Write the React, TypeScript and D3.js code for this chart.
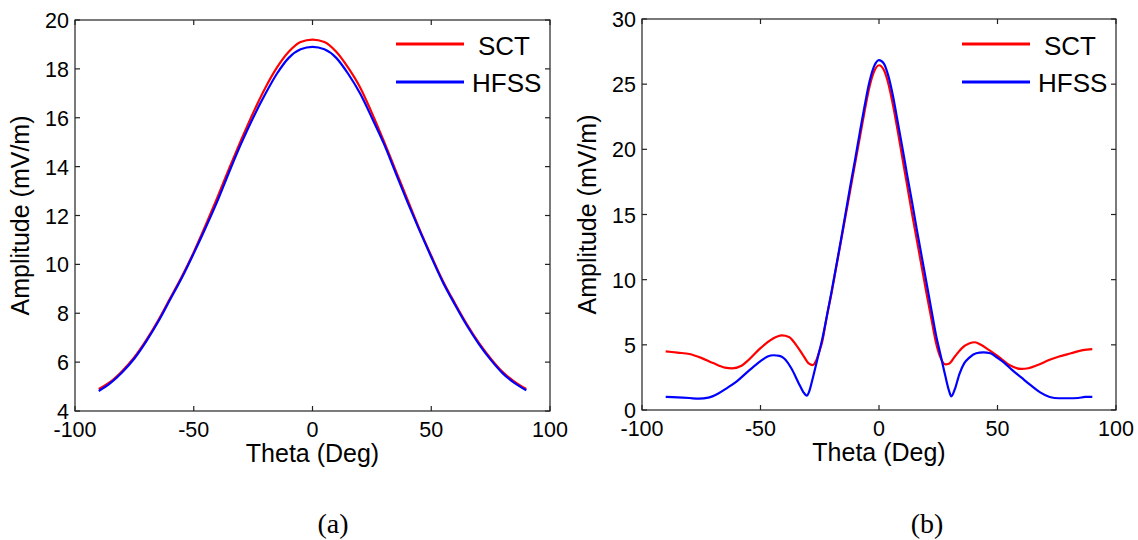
import React from "react";
import * as d3 from "d3";

// ---------- Data ----------
// Panel (a)
const thetaA = [-90, -85, -80, -75, -70, -65, -60, -55, -50, -45, -40, -35, -30, -25, -20, -15, -10, -5, 0, 5, 10, 15, 20, 25, 30, 35, 40, 45, 50, 55, 60, 65, 70, 75, 80, 85, 90];
const sctA = [4.9, 5.2, 5.65, 6.2, 6.9, 7.7, 8.6, 9.5, 10.5, 11.6, 12.75, 13.95, 15.1, 16.2, 17.2, 18.05, 18.7, 19.1, 19.2, 19.1, 18.7, 18.05, 17.25, 16.2, 15.05, 13.85, 12.65, 11.45, 10.35, 9.3, 8.4, 7.55, 6.8, 6.15, 5.6, 5.2, 4.9];
const hfssA = [4.82, 5.15, 5.6, 6.15, 6.85, 7.65, 8.55, 9.45, 10.45, 11.5, 12.6, 13.8, 14.95, 16.0, 16.95, 17.8, 18.45, 18.8, 18.9, 18.8, 18.45, 17.8, 17.0, 16.0, 14.95, 13.75, 12.55, 11.4, 10.3, 9.25, 8.35, 7.5, 6.75, 6.1, 5.55, 5.15, 4.85];

// Panel (b)
const thetaBSct = [-90, -85, -80, -75, -70, -65, -62, -58, -55, -50, -45, -41, -38, -35, -32, -29.5, -28, -26.5, -25, -24, -22, -20, -18, -16, -14, -12, -10, -8, -6, -4, -2, 0, 2, 4, 6, 8, 10, 12, 14, 16, 18, 20, 22, 24, 26, 28, 29.5, 32, 35, 38, 40.5, 43, 46, 50, 55, 60, 63, 67, 72, 76, 81, 86, 90];
const sctB = [4.5, 4.4, 4.3, 4.0, 3.6, 3.25, 3.2, 3.4, 3.85, 4.75, 5.45, 5.72, 5.6, 5.0, 4.2, 3.55, 3.45, 3.8, 4.6, 5.2, 7.2, 9.0, 11.0, 13.0, 15.0, 17.0, 19.0, 21.0, 23.0, 24.8, 26.0, 26.45, 26.1, 25.0, 23.3, 21.3, 19.2, 17.1, 15.0, 13.0, 11.0, 9.0, 7.1, 5.2, 4.0, 3.5, 3.55, 4.1, 4.75, 5.1, 5.2, 5.0, 4.65, 4.15, 3.45, 3.15, 3.2, 3.45, 3.85, 4.1, 4.35, 4.6, 4.67];
const thetaBHfss = [-90, -85, -80, -76, -72, -68, -64, -60, -55, -50, -47, -44.5, -42, -40, -37, -34, -32, -30.5, -29.5, -28, -26, -24, -22, -20, -18, -16, -14, -12, -10, -8, -6, -4, -2, 0, 2, 4, 6, 8, 10, 12, 14, 16, 18, 20, 22, 24, 26, 28, 29.5, 30.5, 32, 34, 36, 38, 41, 44, 47, 50, 53, 56, 60, 64, 68, 72, 76, 80, 84, 87, 90];
const hfssB = [1.0, 0.97, 0.92, 0.87, 0.95, 1.25, 1.7, 2.2, 3.0, 3.75, 4.1, 4.2, 4.15, 3.95, 3.2, 2.1, 1.4, 1.1, 1.4, 2.4, 3.9, 5.4, 7.2, 9.1, 11.1, 13.1, 15.2, 17.3, 19.3, 21.4, 23.4, 25.2, 26.4, 26.85, 26.6, 25.6, 24.0, 22.0, 20.0, 17.9, 15.9, 13.8, 11.8, 9.8, 7.8, 5.8, 4.2, 2.6, 1.5, 1.05, 1.6, 2.8, 3.6, 4.0, 4.35, 4.42, 4.35, 4.0, 3.6, 3.1, 2.5, 1.9, 1.35, 1.0, 0.9, 0.9, 0.92, 1.0, 1.0];

const xTicks = [-100, -50, 0, 50, 100];
const yTicksA = [4, 6, 8, 10, 12, 14, 16, 18, 20];
const yTicksB = [0, 5, 10, 15, 20, 25, 30];
const seriesNames = ["SCT", "HFSS"];
const seriesColors = ["#ff0000", "#0000ff"];

const SANS = "'Liberation Sans', Arial, sans-serif";
const SERIF = "'Liberation Serif', 'Times New Roman', serif";

type PanelProps = {
  left: number;
  right: number;
  top: number;
  bottom: number;
  yDomain: [number, number];
  yTicks: number[];
  series: { theta: number[]; values: number[] }[];
  caption: string;
  captionX: number;
};

function Panel({ left, right, top, bottom, yDomain, yTicks, series, caption, captionX }: PanelProps) {
  const x = d3.scaleLinear().domain([-100, 100]).range([left, right]);
  const y = d3.scaleLinear().domain(yDomain).range([bottom, top]);
  const tick = 5;
  const axisColor = "#222";
  const line = d3
    .line<[number, number]>()
    .x((d) => x(d[0]))
    .y((d) => y(d[1]))
    .curve(d3.curveMonotoneX);
  const cx = (left + right) / 2;
  const cy = (top + bottom) / 2;
  return (
    <g>
      {/* curves */}
      {series.map((s, i) => (
        <path
          key={i}
          d={line(s.theta.map((t, k) => [t, s.values[k]] as [number, number])) || ""}
          fill="none"
          stroke={seriesColors[i]}
          strokeWidth={2.2}
          strokeLinejoin="round"
        />
      ))}
      {/* box */}
      <rect x={left} y={top} width={right - left} height={bottom - top} fill="none" stroke={axisColor} strokeWidth={1.2} />
      {/* x ticks */}
      {xTicks.map((t) => (
        <g key={"x" + t}>
          <line x1={x(t)} x2={x(t)} y1={bottom} y2={bottom - tick} stroke={axisColor} strokeWidth={1.2} />
          <line x1={x(t)} x2={x(t)} y1={top} y2={top + tick} stroke={axisColor} strokeWidth={1.2} />
          <text x={x(t)} y={bottom + 26} textAnchor="middle" fontFamily={SANS} fontSize={21.5} fill="#000">
            {t}
          </text>
        </g>
      ))}
      {/* y ticks */}
      {yTicks.map((t) => (
        <g key={"y" + t}>
          <line x1={left} x2={left + tick} y1={y(t)} y2={y(t)} stroke={axisColor} strokeWidth={1.2} />
          <line x1={right} x2={right - tick} y1={y(t)} y2={y(t)} stroke={axisColor} strokeWidth={1.2} />
          <text x={left - 6} y={y(t) + 8} textAnchor="end" fontFamily={SANS} fontSize={21.5} fill="#000">
            {t}
          </text>
        </g>
      ))}
      {/* axis labels */}
      <text x={cx} y={bottom + 51} textAnchor="middle" fontFamily={SANS} fontSize={25} fill="#000">
        Theta (Deg)
      </text>
      <text
        transform={`translate(${left - 46},${cy}) rotate(-90)`}
        textAnchor="middle"
        fontFamily={SANS}
        fontSize={25}
        fill="#000"
      >
        Amplitude (mV/m)
      </text>
      {/* legend */}
      {seriesNames.map((n, i) => (
        <g key={n}>
          <line x1={right - 154} x2={right - 86} y1={44 + i * 38} y2={44 + i * 38} stroke={seriesColors[i]} strokeWidth={3} />
          <text x={right - (i === 0 ? 72 : 78)} y={55 + i * 37} fontFamily={SANS} fontSize={26} fill="#000">
            {n}
          </text>
        </g>
      ))}
      {/* caption */}
      <text x={captionX} y={533} textAnchor="middle" fontFamily={SERIF} fontSize={28} fill="#000">
        {caption}
      </text>
    </g>
  );
}

export default function App() {
  return (
    <svg
      width={1138}
      height={540}
      viewBox="0 0 1138 540"
      style={{ position: "absolute", left: 0, top: 0, background: "#fff" }}
    >
      <rect x={0} y={0} width={1138} height={540} fill="#fff" />
      <Panel
        left={75}
        right={550}
        top={20}
        bottom={411}
        yDomain={[4, 20]}
        yTicks={yTicksA}
        series={[
          { theta: thetaA, values: sctA },
          { theta: thetaA, values: hfssA },
        ]}
        caption="(a)"
        captionX={333}
      />
      <Panel
        left={642}
        right={1116}
        top={19}
        bottom={410}
        yDomain={[0, 30]}
        yTicks={yTicksB}
        series={[
          { theta: thetaBSct, values: sctB },
          { theta: thetaBHfss, values: hfssB },
        ]}
        caption="(b)"
        captionX={927}
      />
    </svg>
  );
}
